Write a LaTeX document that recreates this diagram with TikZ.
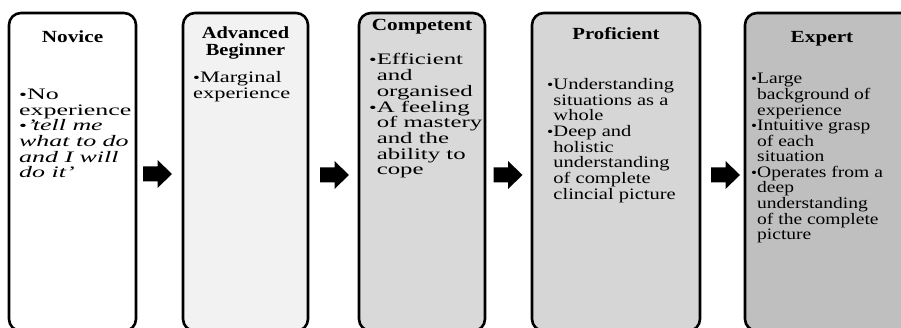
\documentclass[tikz,border=0pt]{standalone}
\usepackage{fontspec}
\usepackage{graphicx}
\setmainfont{Liberation Serif}
\definecolor{fillA}{HTML}{FFFFFF}
\definecolor{fillB}{HTML}{F2F2F2}
\definecolor{fillC}{HTML}{D9D9D9}
\definecolor{fillD}{HTML}{D6D6D6}
\definecolor{fillE}{HTML}{BFBFBF}
\tikzset{
  stagebox/.style={draw=black, line width=2.6pt, rounded corners=12pt},
  titletext/.style={font=\fontsize{17}{16.5}\selectfont\bfseries, inner sep=0pt, anchor=base},
  bodytext/.style={inner sep=0pt, anchor=base west, font=\fontsize{16}{15.2}\selectfont},
  blockarrow/.style={fill=black, draw=none},
}
\newcommand{\bl}{{\fontsize{14}{14}\selectfont\textbullet}\hspace{1.5pt}}
\newcommand{\xs}[2]{\scalebox{#1}[1]{#2}}
\newcommand{\blockarr}[1]{\fill[blockarrow] (#1) ++(-14.5,-7.5) -- ++(14.5,0) -- ++(0,-6.5) -- ++(14.5,14) -- ++(-14.5,14) -- ++(0,-6.5) -- ++(-14.5,0) -- cycle;}
\begin{document}
\begin{tikzpicture}[x=1pt,y=-1pt]
\useasboundingbox (0,0) rectangle (901,328);
\begin{scope}
\clip (0,0) rectangle (901,328);
\draw[stagebox, fill=fillA] (9,13) rectangle (136,331);
\draw[stagebox, fill=fillB] (183,13) rectangle (308,331);
\draw[stagebox, fill=fillC] (359,13) rectangle (485,331);
\draw[stagebox, fill=fillD] (532,13) rectangle (700,331);
\draw[stagebox, fill=fillE] (745,13) rectangle (915,331);
\end{scope}
\coordinate (a1) at (157.5,174);
\coordinate (a2) at (334.5,175);
\coordinate (a3) at (508,175);
\coordinate (a4) at (725.5,175);
\blockarr{a1}
\blockarr{a2}
\blockarr{a3}
\blockarr{a4}

\node[titletext] (t1) at (72.5,43) {\xs{1.25}{Novice}};
\node[titletext] (t2) at (245.5,39) {\xs{1.2}{\begin{tabular}[t]{@{}c@{}}Advanced\\Beginner\end{tabular}}};
\node[titletext] (t3) at (422,31) {\xs{1.25}{Competent}};
\node[titletext] (t4) at (616,40) {\xs{1.22}{Proficient}};
\node[titletext] (t5) at (822,43) {\xs{1.25}{Expert}};

\node[bodytext] (x1) at (19,100) {\xs{1.62}{\begin{tabular}[t]{@{}l@{}l@{}}\bl&No\\\multicolumn{2}{@{}l@{}}{experience}\\\bl&\itshape 'tell me\\\multicolumn{2}{@{}l@{}}{\itshape what to do}\\\multicolumn{2}{@{}l@{}}{\itshape and I will}\\\multicolumn{2}{@{}l@{}}{\itshape do it'}\end{tabular}}};
\node[bodytext] (x2) at (193,83) {\xs{1.40}{\begin{tabular}[t]{@{}l@{}l@{}}\bl&Marginal\\\multicolumn{2}{@{}l@{}}{experience}\end{tabular}}};
\node[bodytext] (x3) at (369,65) {\xs{1.55}{\begin{tabular}[t]{@{}l@{}l@{}}\bl&Efficient\\&and\\&organised\\\bl&A feeling\\&of mastery\\&and the\\&ability to\\&cope\end{tabular}}};
\node[bodytext] (x4) at (547,90) {\xs{1.28}{\begin{tabular}[t]{@{}l@{}l@{}}\bl&Understanding\\&situations as a\\&whole\\\bl&Deep and\\&holistic\\&understanding\\&of complete\\&clincial picture\end{tabular}}};
\node[bodytext] (x5) at (751,84) {\xs{1.22}{\begin{tabular}[t]{@{}l@{}l@{}}\bl&Large\\&background of\\&experience\\\bl&Intuitive grasp\\&of each\\&situation\\\bl&Operates from a\\&deep\\&understanding\\&of the complete\\&picture\end{tabular}}};
\end{tikzpicture}
\end{document}
